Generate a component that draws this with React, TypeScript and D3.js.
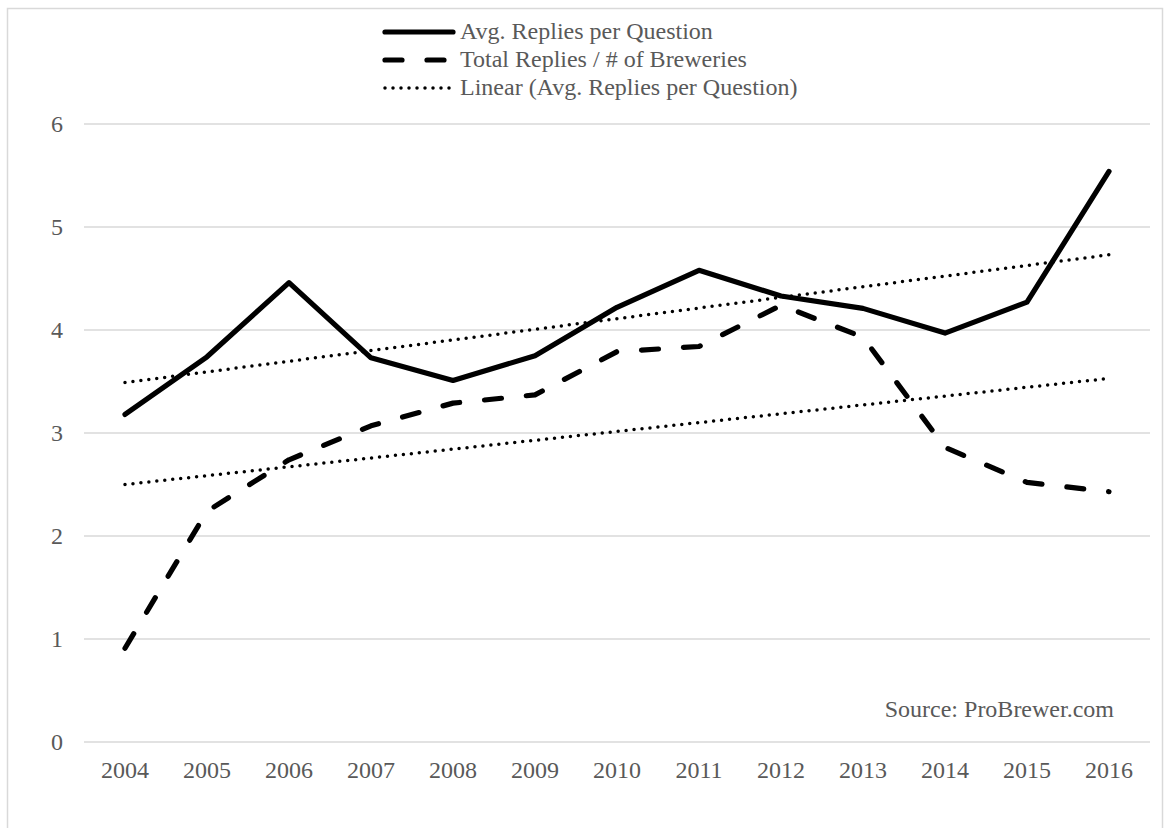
import React from "react";
import * as d3 from "d3";

const years = ["2004","2005","2006","2007","2008","2009","2010","2011","2012","2013","2014","2015","2016"];
const avgReplies = [3.18, 3.74, 4.46, 3.73, 3.51, 3.75, 4.22, 4.58, 4.33, 4.21, 3.97, 4.27, 5.54];
const repliesPerBrewery = [0.91, 2.24, 2.74, 3.07, 3.29, 3.37, 3.79, 3.84, 4.24, 3.93, 2.86, 2.52, 2.43];
// trendline endpoints (first year, last year)
const trendAvg = [3.49, 4.73];
const trendBrewery = [2.5, 3.53];
const yTicks = [0, 1, 2, 3, 4, 5, 6];
const legendLabels = ["Avg. Replies per Question", "Total Replies / # of Breweries", "Linear (Avg. Replies per Question)"];
const sourceText = "Source: ProBrewer.com";

const W = 1171, H = 828;
const FONT = "'Liberation Serif', 'Times New Roman', serif";
const TXT = "#595959";
const FS = 24;

export default function App() {
  const x = d3.scalePoint<string>().domain(years).range([84, 1150]).padding(0.5);
  const y = d3.scaleLinear().domain([0, 6]).range([742, 124]);
  const line = d3.line<number>().x((_, i) => x(years[i])!).y((d) => y(d));
  const trendLine = (ends: number[]) =>
    d3.line<number>().x((_, i) => x(years[i === 0 ? 0 : years.length - 1])!).y((d) => y(d))(ends)!;

  const dashStyle = { strokeDasharray: "17,25", strokeLinecap: "round" as const };
  const dotStyle = { strokeDasharray: "0,8", strokeLinecap: "round" as const };

  const legendY = [32, 60, 88];
  return (
    <svg width={W} height={H} style={{ position: "absolute", left: 0, top: 0, background: "#fff" }}>
      <rect x={7.5} y={8.5} width={1155} height={840} fill="#fff" stroke="#d9d9d9" strokeWidth={1.5} />
      {yTicks.map((t) => (
        <g key={t}>
          <line x1={84} x2={1150} y1={y(t)} y2={y(t)} stroke="#d9d9d9" strokeWidth={1.5} />
          <text x={63} y={y(t)} dy="0.35em" textAnchor="end" fontFamily={FONT} fontSize={FS} fill={TXT}>{t}</text>
        </g>
      ))}
      {years.map((yr) => (
        <text key={yr} x={x(yr)} y={778} textAnchor="middle" fontFamily={FONT} fontSize={FS} fill={TXT}>{yr}</text>
      ))}
      <path d={trendLine(trendAvg)} fill="none" stroke="#000" strokeWidth={3.5} style={dotStyle} />
      <path d={trendLine(trendBrewery)} fill="none" stroke="#000" strokeWidth={3.5} style={dotStyle} />
      <path d={line(repliesPerBrewery)!} fill="none" stroke="#000" strokeWidth={5.2} strokeLinejoin="round" style={dashStyle} />
      <path d={line(avgReplies)!} fill="none" stroke="#000" strokeWidth={5.2} strokeLinejoin="round" strokeLinecap="round" />
      <text x={1114} y={717} textAnchor="end" fontFamily={FONT} fontSize={FS} fill={TXT}>{sourceText}</text>
      {legendLabels.map((lab, i) => (
        <g key={lab}>
          <line x1={385} x2={453} y1={legendY[i]} y2={legendY[i]} stroke="#000"
            strokeWidth={i === 2 ? 3.5 : 5.2}
            strokeLinecap="round"
            strokeDasharray={i === 1 ? "17,25" : i === 2 ? "0,8" : undefined} />
          <text x={460} y={legendY[i] + 7} fontFamily={FONT} fontSize={FS} fill={TXT}>{lab}</text>
        </g>
      ))}
    </svg>
  );
}
